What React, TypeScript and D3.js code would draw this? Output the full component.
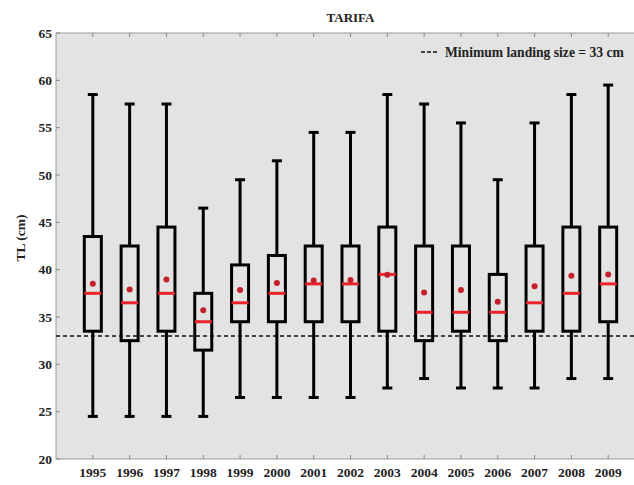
import React from "react";
import * as d3 from "d3";

const years = ["1995","1996","1997","1998","1999","2000","2001","2002","2003","2004","2005","2006","2007","2008","2009"];
const whiskerHigh = [58.5,57.5,57.5,46.5,49.5,51.5,54.5,54.5,58.5,57.5,55.5,49.5,55.5,58.5,59.5];
const q3 = [43.5,42.5,44.5,37.5,40.5,41.5,42.5,42.5,44.5,42.5,42.5,39.5,42.5,44.5,44.5];
const medians = [37.5,36.5,37.5,34.5,36.5,37.5,38.5,38.5,39.5,35.5,35.5,35.5,36.5,37.5,38.5];
const means = [38.5,37.9,38.95,35.7,37.85,38.6,38.85,38.9,39.45,37.6,37.85,36.6,38.25,39.35,39.5];
const q1 = [33.5,32.5,33.5,31.5,34.5,34.5,34.5,34.5,33.5,32.5,33.5,32.5,33.5,33.5,34.5];
const whiskerLow = [24.5,24.5,24.5,24.5,26.5,26.5,26.5,26.5,27.5,28.5,27.5,27.5,27.5,28.5,28.5];
const yTicks = [20,25,30,35,40,45,50,55,60,65];
const minLanding = 33;

const W = 634, H = 485;
const left = 56, right = 645, top = 33, bottom = 459;
const FONT = "Liberation Serif, DejaVu Serif, serif";

export default function App() {
  const x = d3.scaleLinear().domain([0, years.length + 1]).range([left, right]);
  const y = d3.scaleLinear().domain([20, 65]).range([bottom, top]);
  const boxW = 17, capW = 10;
  const red = "#e8232a", darkRed = "#c4202b";
  const txt = { fontFamily: FONT, fontWeight: 700 as const };
  return (
    <svg width={W} height={H} style={{ position: "fixed", left: 0, top: 0, background: "#fff" }}>
      <rect x={left} y={top} width={right - left} height={bottom - top} fill="#e3e3e3" />
      <line x1={left} x2={right} y1={top} y2={top} stroke="#9a9a9a" strokeWidth={1} />
      <line x1={left} x2={right} y1={bottom} y2={bottom} stroke="#9a9a9a" strokeWidth={1} />
      <line x1={left} x2={left} y1={top} y2={bottom} stroke="#9a9a9a" strokeWidth={1} />
      {yTicks.map((t) => (
        <g key={t}>
          <line x1={left} x2={left + 4} y1={y(t)} y2={y(t)} stroke="#888" />
          <text x={left - 4} y={y(t)} dy="0.35em" textAnchor="end" style={txt} fontSize={13.5} fill="#222">{t}</text>
        </g>
      ))}
      {years.map((yr, i) => (
        <g key={yr}>
          <line x1={x(i + 1)} x2={x(i + 1)} y1={bottom} y2={bottom - 4} stroke="#888" />
          <line x1={x(i + 1)} x2={x(i + 1)} y1={top} y2={top + 4} stroke="#888" />
          <text x={x(i + 1)} y={472} dy="0.35em" textAnchor="middle" style={txt} fontSize={13.5} fill="#222">{yr}</text>
        </g>
      ))}
      <line x1={left} x2={right} y1={y(minLanding)} y2={y(minLanding)} stroke="#111" strokeWidth={1.5} strokeDasharray="4,3" />
      {years.map((yr, i) => {
        const cx = x(i + 1);
        return (
          <g key={"b" + yr}>
            <line x1={cx} x2={cx} y1={y(whiskerHigh[i])} y2={y(q3[i])} stroke="#000" strokeWidth={3} />
            <line x1={cx} x2={cx} y1={y(q1[i])} y2={y(whiskerLow[i])} stroke="#000" strokeWidth={3} />
            <line x1={cx - capW / 2} x2={cx + capW / 2} y1={y(whiskerHigh[i])} y2={y(whiskerHigh[i])} stroke="#000" strokeWidth={3} />
            <line x1={cx - capW / 2} x2={cx + capW / 2} y1={y(whiskerLow[i])} y2={y(whiskerLow[i])} stroke="#000" strokeWidth={3} />
            <rect x={cx - boxW / 2} y={y(q3[i])} width={boxW} height={y(q1[i]) - y(q3[i])} fill="none" stroke="#000" strokeWidth={3} />
            <line x1={cx - boxW / 2} x2={cx + boxW / 2} y1={y(medians[i])} y2={y(medians[i])} stroke={red} strokeWidth={3} />
            <circle cx={cx} cy={y(means[i])} r={3} fill={darkRed} />
          </g>
        );
      })}
      <line x1={421} x2={437} y1={52} y2={52} stroke="#111" strokeWidth={1.5} strokeDasharray="4,2" />
      <text x={445} y={52} dy="0.35em" style={txt} fontSize={13.6} fill="#222">Minimum landing size = 33 cm</text>
      <text x={(left + right) / 2} y={17} dy="0.35em" textAnchor="middle" style={txt} fontSize={13} fill="#222">TARIFA</text>
      <text transform={`translate(20,238) rotate(-90)`} dy="0.35em" textAnchor="middle" style={txt} fontSize={13.5} fill="#222">TL (cm)</text>
    </svg>
  );
}
